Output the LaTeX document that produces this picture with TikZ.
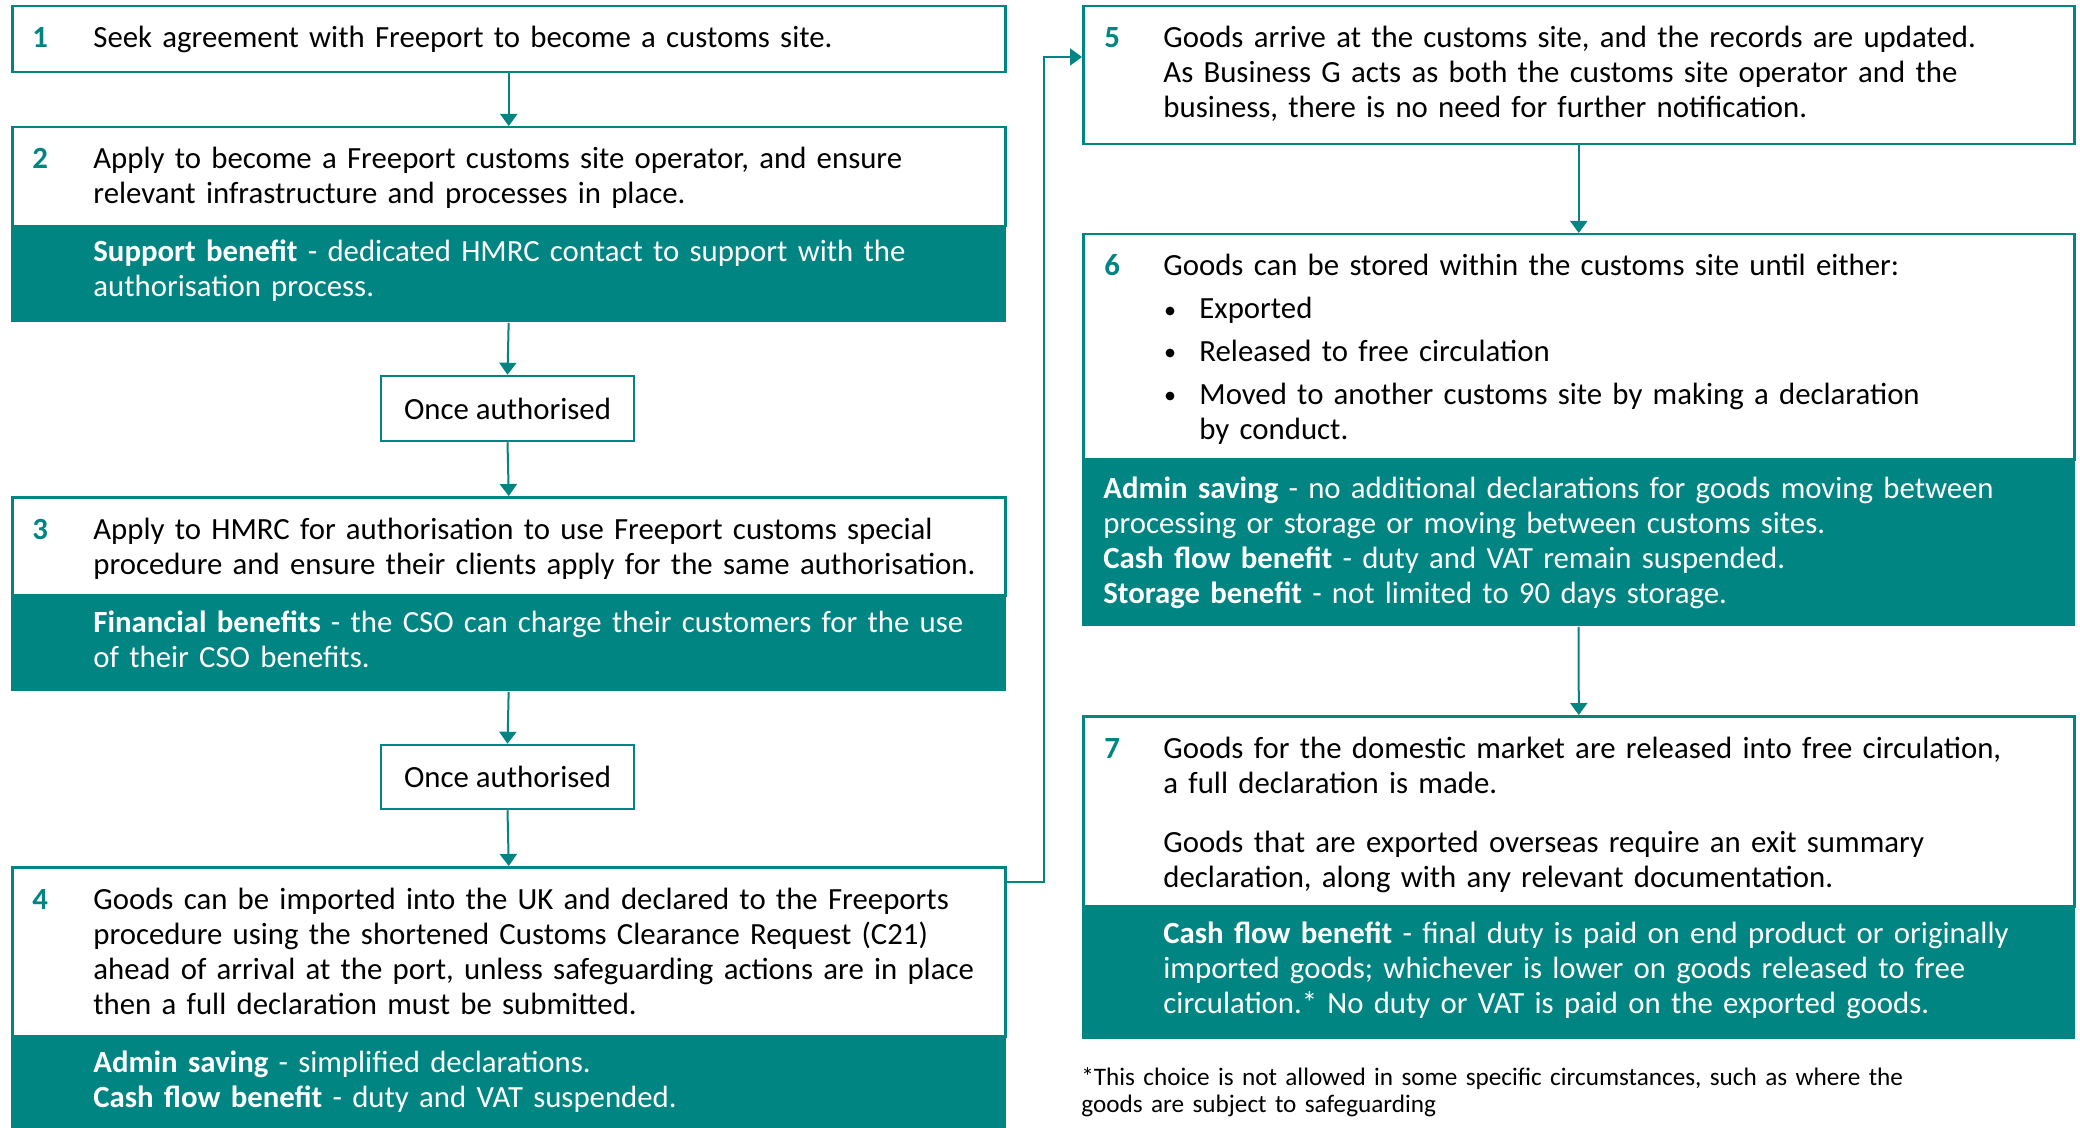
\documentclass[tikz,border=0pt]{standalone}
\usepackage{fontspec}
\setmainfont{Carlito}
\usetikzlibrary{arrows.meta}
\definecolor{hmteal}{RGB}{0,133,130}
\newcommand{\flowfont}{\fontsize{15.4pt}{17.5pt}\selectfont}
\newcommand{\notefont}{\fontsize{12.6pt}{13.5pt}\selectfont}
\tikzset{
  stepbox/.style={draw=hmteal, line width=1.25pt, inner sep=0pt, anchor=north west},
  benbox/.style={fill=hmteal, inner sep=0pt, anchor=north west},
  num/.style={anchor=base west, inner sep=0pt, text=hmteal, font=\flowfont\bfseries},
  txt/.style={anchor=base west, inner sep=0pt, text width=495pt, align=left, font=\flowfont},
  bentxt/.style={txt, text=white},
  dot/.style={circle, fill=black, inner sep=0pt, minimum size=4.4pt},
  flow/.style={draw=hmteal, line width=1pt, -{Triangle[width=8.5pt,length=6pt]}},
}
\begin{document}
\begin{tikzpicture}[x=0.5pt, y=-0.5pt]
  \useasboundingbox (0,0) rectangle (2080,1128);

  %%%%% LEFT COLUMN %%%%%
  \node[stepbox, minimum width=496.5pt, minimum height=33pt] (step1) at (11,5) {};
  \node[stepbox, minimum width=496.5pt, minimum height=49.5pt] (step2) at (11,126) {};
  \node[benbox, minimum width=497.75pt, minimum height=48.5pt] (ben2) at (10.5,225) {};
  \node[stepbox, anchor=center, minimum width=126.5pt, minimum height=32.5pt, font=\flowfont] (once1) at (507.5,408.5) {Once authorised};
  \node[stepbox, minimum width=496.5pt, minimum height=49pt] (step3) at (11,496) {};
  \node[benbox, minimum width=497.75pt, minimum height=48.5pt] (ben3) at (10.5,594) {};
  \node[stepbox, anchor=center, minimum width=126.5pt, minimum height=32pt, font=\flowfont] (once2) at (507.5,777) {Once authorised};
  \node[stepbox, minimum width=496.5pt, minimum height=84.5pt] (step4) at (11,866) {};
  \node[benbox, minimum width=497.75pt, minimum height=47pt] (ben4) at (10.5,1035) {};

  %%%%% RIGHT COLUMN %%%%%
  \node[stepbox, minimum width=495.5pt, minimum height=69pt] (step5) at (1082,5) {};
  \node[stepbox, minimum width=495.5pt, minimum height=112.5pt] (step6) at (1082,233) {};
  \node[benbox, minimum width=496.75pt, minimum height=84pt] (ben6) at (1081.5,458) {};
  \node[stepbox, minimum width=495.5pt, minimum height=95pt] (step7) at (1082,715) {};
  \node[benbox, minimum width=496.75pt, minimum height=67pt] (ben7) at (1081.5,905) {};

  %%%%% TEXTS %%%%%
  \node[num] (n1) at (32,48) {1};
  \node[txt] (t1) at (93,48) {Seek agreement with Freeport to become a customs site.};

  \node[num] (n2) at (32,169) {2};
  \node[txt] (t2) at (93,169) {Apply to become a Freeport customs site operator, and ensure\\relevant infrastructure and processes in place.};
  \node[bentxt] (tb2) at (93,262) {\textbf{Support benefit} - dedicated HMRC contact to support with the\\authorisation process.};

  \node[num] (n3) at (32,539) {3};
  \node[txt] (t3) at (93,539) {Apply to HMRC for authorisation to use Freeport customs special\\procedure and ensure their clients apply for the same authorisation.};
  \node[bentxt] (tb3) at (93,632) {\textbf{Financial benefits} - the CSO can charge their customers for the use\\of their CSO benefits.};

  \node[num] (n4) at (32,909) {4};
  \node[txt] (t4) at (93,909) {Goods can be imported into the UK and declared to the Freeports\\procedure using the shortened Customs Clearance Request (C21)\\ahead of arrival at the port, unless safeguarding actions are in place\\then a full declaration must be submitted.};
  \node[bentxt] (tb4) at (93,1072) {\textbf{Admin saving} - simplified declarations.\\\textbf{Cash flow benefit} - duty and VAT suspended.};

  \node[num] (n5) at (1104,48) {5};
  \node[txt] (t5) at (1163,48) {Goods arrive at the customs site, and the records are updated.\\As Business G acts as both the customs site operator and the\\business, there is no need for further notification.};

  \node[num] (n6) at (1104,276) {6};
  \node[txt] (t6) at (1163,276) {Goods can be stored within the customs site until either:};
  \node[dot] (d1) at (1170,311) {};
  \node[txt] (b1) at (1199,319) {Exported};
  \node[dot] (d2) at (1170,353) {};
  \node[txt] (b2) at (1199,361) {Released to free circulation};
  \node[dot] (d3) at (1170,396) {};
  \node[txt] (b3) at (1199,404) {Moved to another customs site by making a declaration\\by conduct.};
  \node[bentxt] (tb6) at (1103,498) {\textbf{Admin saving} - no additional declarations for goods moving between\\processing or storage or moving between customs sites.\\\textbf{Cash flow benefit} - duty and VAT remain suspended.\\\textbf{Storage benefit} - not limited to 90 days storage.};

  \node[num] (n7) at (1104,758) {7};
  \node[txt] (t7) at (1163,758) {Goods for the domestic market are released into free circulation,\\a full declaration is made.\\[12pt]Goods that are exported overseas require an exit summary\\declaration, along with any relevant documentation.};
  \node[bentxt] (tb7) at (1163,943) {\textbf{Cash flow benefit} - final duty is paid on end product or originally\\imported goods; whichever is lower on goods released to free\\circulation.* No duty or VAT is paid on the exported goods.};

  \node[txt, font=\notefont] (note) at (1081,1085) {*This choice is not allowed in some specific circumstances, such as where the\\goods are subject to safeguarding};

  %%%%% ARROWS %%%%%
  \draw[flow] (step1.south) -- (step2.north);
  \draw[flow] (ben2.south) -- (once1.north);
  \draw[flow] (once1.south) -- (step3.north);
  \draw[flow] (ben3.south) -- (once2.north);
  \draw[flow] (once2.south) -- (step4.north);
  \coordinate (up1) at (1044,882);
  \coordinate (up2) at (1044,57);
  \draw[flow] (step4.east |- up1) -- (up1) -- (up2) -- (step5.west |- up2);
  \draw[flow] (step5.south) -- (step6.north);
  \draw[flow] (ben6.south) -- (step7.north);
\end{tikzpicture}
\end{document}
